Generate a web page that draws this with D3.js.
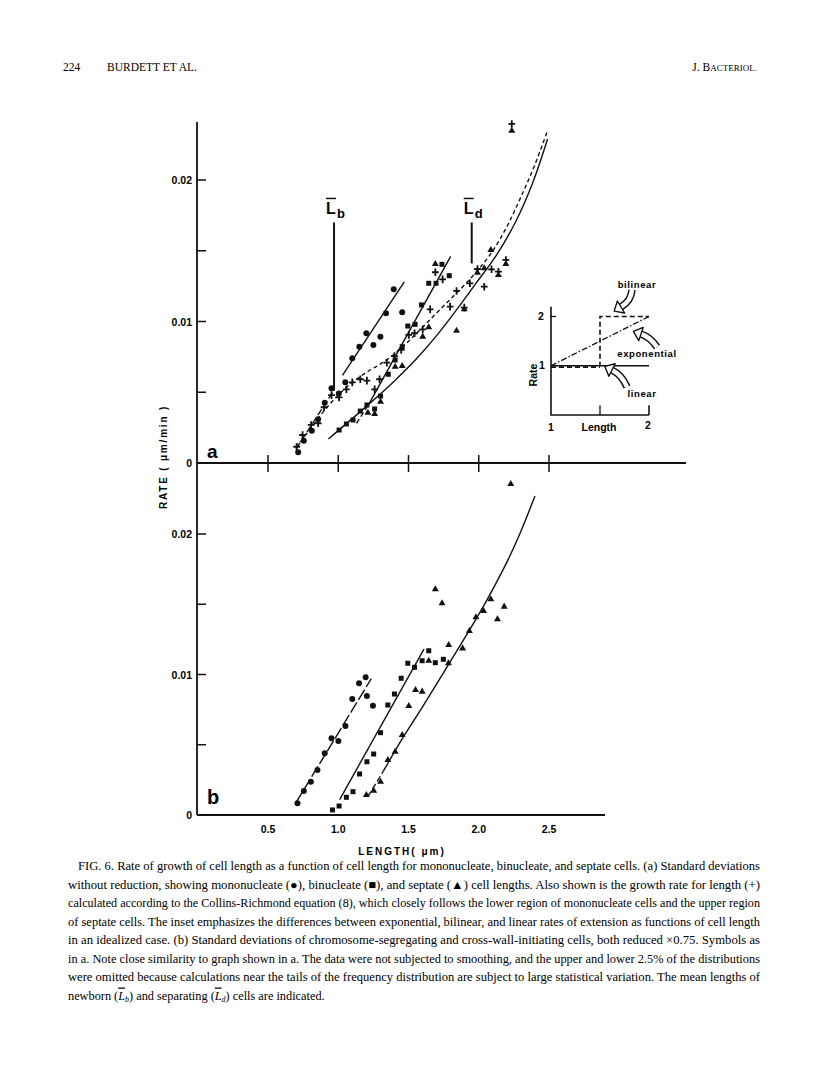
<!DOCTYPE html>
<html>
<head>
<meta charset="utf-8">
<script src="https://cdn.jsdelivr.net/npm/d3@7"></script>
<style>
  body { margin: 0; background: #fff; }
  svg { display: block; }
  .sans { font-family: "Liberation Sans", Arial, sans-serif; font-weight: bold; }
  .serif { font-family: "Liberation Serif", "Times New Roman", serif; }
</style>
</head>
<body>
<svg id="page" width="816" height="1079"></svg>
<script>
// ---- data (length in um, rate in um/min) ----
const xTicks = [0.5, 1.0, 1.5, 2.0, 2.5];
const xTickLabels = ["0.5", "1.0", "1.5", "2.0", "2.5"];
const yTicks = [0.005, 0.01, 0.015, 0.02];
const yTickLabels = [0, 0.01, 0.02];

// panel a - mononucleate (circles)
const aMonoL = [0.715, 0.755, 0.812, 0.857, 0.904, 0.952, 1.004, 1.050, 1.100, 1.150, 1.200, 1.250, 1.300, 1.340, 1.395, 1.455];
const aMonoR = [0.00076, 0.00157, 0.00228, 0.00309, 0.00426, 0.00528, 0.00492, 0.0057, 0.0074, 0.00822, 0.00917, 0.00834, 0.00893, 0.01058, 0.01228, 0.01065];
// binucleate (squares)
const aBinL = [1.006, 1.058, 1.105, 1.157, 1.204, 1.259, 1.301, 1.356, 1.405, 1.455, 1.495, 1.547, 1.592, 1.644, 1.696, 1.738, 1.790];
const aBinR = [0.00233, 0.00276, 0.00304, 0.00367, 0.0041, 0.00382, 0.00473, 0.00627, 0.00728, 0.00822, 0.00968, 0.0098, 0.01117, 0.0127, 0.0127, 0.01404, 0.01324];
// septate (triangles)
const aSepL = [1.211, 1.259, 1.301, 1.405, 1.455, 1.601, 1.644, 1.691, 1.842, 1.897, 1.991, 2.039, 2.086, 2.140, 2.193, 2.235];
const aSepR = [0.00355, 0.00346, 0.00433, 0.0068, 0.00686, 0.00893, 0.00959, 0.01406, 0.00935, 0.01086, 0.01345, 0.01376, 0.01505, 0.01329, 0.01406, 0.02348];
// Collins-Richmond rate (+)
const aCrL = [0.704, 0.746, 0.807, 0.857, 0.899, 0.952, 1.006, 1.058, 1.100, 1.157, 1.204, 1.259, 1.294, 1.346, 1.400, 1.448, 1.502, 1.543, 1.601, 1.654, 1.691, 1.743, 1.796, 1.842, 1.897, 1.937, 1.991, 2.039, 2.091, 2.140, 2.193, 2.235];
const aCrR = [0.00115, 0.00198, 0.00269, 0.00281, 0.00394, 0.0048, 0.00464, 0.00521, 0.0057, 0.00592, 0.00582, 0.00521, 0.00592, 0.00709, 0.00756, 0.00799, 0.00905, 0.00917, 0.00945, 0.01086, 0.01348, 0.01298, 0.01105, 0.01216, 0.01098, 0.0127, 0.01371, 0.01246, 0.01369, 0.01352, 0.01435, 0.02396];

// fitted lines, panel a
const aMonoFitLo = [[0.70, 0.0010], [0.96, 0.0050]];
const aMonoFitHi = [[1.03, 0.0062], [1.47, 0.0128]];
const aBinFitLo = [[1.13, 0.0028], [1.22, 0.0042]];
const aBinFitHi = [[1.22, 0.0042], [1.80, 0.0146]];
const aCrCurve = [[0.70, 0.0011], [0.80, 0.0024], [0.90, 0.0037], [1.0, 0.0048], [1.10, 0.0057], [1.20, 0.0064], [1.30, 0.0070], [1.40, 0.0077], [1.50, 0.0086], [1.60, 0.0096], [1.70, 0.0106], [1.80, 0.0116], [1.90, 0.0126], [2.00, 0.0137], [2.10, 0.0150], [2.20, 0.0167], [2.30, 0.0188], [2.40, 0.0211], [2.49, 0.0235]];
const aSepCurve = [[0.93, 0.0017], [1.20, 0.0040], [1.40, 0.0058], [1.56, 0.0074], [1.70, 0.0090], [1.84, 0.0108], [1.98, 0.0127], [2.12, 0.0146], [2.26, 0.0170], [2.38, 0.0197], [2.49, 0.0229]];

// mean lengths of newborn and separating cells
const lbMean = 0.97, ldMean = 1.95;

// panel b
const bMonoL = [0.71, 0.755, 0.805, 0.852, 0.904, 0.952, 1.001, 1.051, 1.100, 1.148, 1.195, 1.204, 1.247];
const bMonoR = [0.00083, 0.00171, 0.00237, 0.0032, 0.00439, 0.00546, 0.00527, 0.00633, 0.00826, 0.00937, 0.0098, 0.00847, 0.00778];
const bBinL = [0.959, 1.006, 1.058, 1.105, 1.152, 1.204, 1.252, 1.301, 1.353, 1.400, 1.448, 1.495, 1.543, 1.597, 1.644, 1.691, 1.748];
const bBinR = [0.00036, 0.00064, 0.00126, 0.00166, 0.00292, 0.00379, 0.00434, 0.00586, 0.00783, 0.00861, 0.00973, 0.0108, 0.01051, 0.01098, 0.01169, 0.01084, 0.01108];
const bSepL = [1.200, 1.252, 1.301, 1.353, 1.405, 1.455, 1.502, 1.550, 1.597, 1.644, 1.691, 1.739, 1.786, 1.784, 1.885, 1.933, 1.980, 2.034, 2.086, 2.133, 2.181, 2.228];
const bSepR = [0.00142, 0.00173, 0.00237, 0.00391, 0.0045, 0.00569, 0.00776, 0.0089, 0.00878, 0.01098, 0.01606, 0.01507, 0.0121, 0.0108, 0.01186, 0.0131, 0.01407, 0.01452, 0.01535, 0.01393, 0.01483, 0.02356];
const bMonoFit = [[0.70, 0.0009], [1.235, 0.0097]];
const bBinFit = [[1.01, 0.0011], [1.61, 0.0118]];
const bSepFitLo = [[1.21, 0.0013], [1.32, 0.0031]];
const bSepFit = [[1.32, 0.0031], [1.46, 0.0055], [1.60, 0.0077], [1.79, 0.0108], [2.03, 0.0148], [2.20, 0.0180], [2.30, 0.0202], [2.40, 0.0227]];

// inset: idealized rate vs length
const insetLinear = [[1, 1], [2, 1]];
const insetBilinear = [[1, 1], [1.5, 1], [1.5, 2], [2, 2]];
const insetExp = [[1, 1], [2, 2]];

const captionLines = [
  "FIG. 6. Rate of growth of cell length as a function of cell length for mononucleate, binucleate, and septate cells. (a) Standard deviations",
  "without reduction, showing mononucleate (\u25CF), binucleate (\u25A0), and septate (\u25B2) cell lengths. Also shown is the growth rate for length (+)",
  "calculated according to the Collins-Richmond equation (8), which closely follows the lower region of mononucleate cells and the upper region",
  "of septate cells. The inset emphasizes the differences between exponential, bilinear, and linear rates of extension as functions of cell length",
  "in an idealized case. (b) Standard deviations of chromosome-segregating and cross-wall-initiating cells, both reduced \u00D70.75. Symbols as",
  "in a. Note close similarity to graph shown in a. The data were not subjected to smoothing, and the upper and lower 2.5% of the distributions",
  "were omitted because calculations near the tails of the frequency distribution are subject to large statistical variation. The mean lengths of"
];

// ---- drawing ----
const svg = d3.select("#page");
const x = d3.scaleLinear().domain([0.5, 2.5]).range([268, 549]);
const ya = d3.scaleLinear().domain([0, 0.02]).range([463, 180]);
const yb = d3.scaleLinear().domain([0, 0.02]).range([815, 534]);
const axisX = 197;

// page header
svg.append("text").attr("class", "serif").attr("x", 63).attr("y", 71).attr("font-size", 11.5).text("224");
svg.append("text").attr("class", "serif").attr("x", 107).attr("y", 71).attr("font-size", 11.5).text("BURDETT ET AL.");
const jb = svg.append("text").attr("class", "serif").attr("x", 757).attr("y", 71).attr("text-anchor", "end").attr("font-size", 11.5);
jb.append("tspan").text("J. B");
jb.append("tspan").attr("font-size", 9).text("ACTERIOL.");

// main y axis (shared by both panels)
svg.append("line").attr("x1", axisX).attr("x2", axisX).attr("y1", 122).attr("y2", 815)
  .attr("stroke", "#111").attr("stroke-width", 1.8);

function yAxisTicks(y) {
  svg.selectAll(null).data(yTicks).enter().append("line")
    .attr("x1", axisX).attr("x2", axisX + 9)
    .attr("y1", d => y(d)).attr("y2", d => y(d))
    .attr("stroke", "#111").attr("stroke-width", 1.5);
  svg.selectAll(null).data(yTickLabels).enter().append("text")
    .attr("class", "sans").attr("font-size", 10.5)
    .attr("x", axisX - 5).attr("y", d => y(d) + 4)
    .attr("text-anchor", "end")
    .text(d => d === 0 ? "0" : d3.format(".2f")(d));
}
yAxisTicks(ya);
yAxisTicks(yb);

// panel a x axis: long line with crossing ticks
svg.append("line").attr("x1", axisX).attr("x2", 686).attr("y1", ya(0)).attr("y2", ya(0))
  .attr("stroke", "#111").attr("stroke-width", 1.8);
svg.selectAll(null).data(xTicks).enter().append("line")
  .attr("x1", d => x(d)).attr("x2", d => x(d))
  .attr("y1", ya(0) - 8).attr("y2", ya(0) + 9)
  .attr("stroke", "#111").attr("stroke-width", 1.5);

// panel b x axis: no ticks, only labels
svg.append("line").attr("x1", axisX).attr("x2", 605).attr("y1", yb(0)).attr("y2", yb(0))
  .attr("stroke", "#111").attr("stroke-width", 1.8);
svg.selectAll(null).data(xTicks).enter().append("text")
  .attr("class", "sans").attr("font-size", 10.5)
  .attr("x", d => x(d)).attr("y", yb(0) + 18)
  .attr("text-anchor", "middle")
  .text((d, i) => xTickLabels[i]);

svg.append("text").attr("class", "sans").attr("font-size", 10).attr("letter-spacing", 2)
  .attr("x", 402).attr("y", 855).attr("text-anchor", "middle")
  .text("LENGTH( \u03BCm)");

// y label, rotated
svg.append("text").attr("class", "sans").attr("font-size", 10).attr("letter-spacing", 1.8)
  .attr("transform", "translate(167,457) rotate(-90)")
  .attr("text-anchor", "middle")
  .text("RATE ( \u03BCm/min )");

// panel letters
svg.append("text").attr("class", "sans").attr("font-weight", "normal").attr("font-size", 19)
  .attr("x", 207).attr("y", 458).text("a");
svg.append("text").attr("class", "sans").attr("font-weight", "normal").attr("font-size", 20)
  .attr("x", 207).attr("y", 804).text("b");

// helpers
function zip(L, R) { return L.map((l, i) => [l, R[i]]); }

function drawLine(pts, y, dash, curved) {
  const gen = d3.line().x(d => x(d[0])).y(d => y(d[1]));
  if (curved) gen.curve(d3.curveCatmullRom.alpha(0.5));
  svg.append("path").attr("d", gen(pts))
    .attr("fill", "none").attr("stroke", "#111").attr("stroke-width", 1.4)
    .attr("stroke-dasharray", dash || null);
}

function drawPoints(L, R, y, shape) {
  const pts = zip(L, R);
  if (shape === "plus") {
    svg.selectAll(null).data(pts).enter().append("path")
      .attr("d", d => {
        const cx = x(d[0]), cy = y(d[1]);
        return `M${cx - 3.4},${cy}H${cx + 3.4}M${cx},${cy - 3.8}V${cy + 3.8}`;
      })
      .attr("stroke", "#111").attr("stroke-width", 1.8);
    return;
  }
  const sym = shape === "circle" ? d3.symbolCircle : shape === "square" ? d3.symbolSquare : d3.symbolTriangle;
  const size = shape === "circle" ? 28 : shape === "square" ? 25 : 21;
  svg.selectAll(null).data(pts).enter().append("path")
    .attr("d", d3.symbol().type(sym).size(size))
    .attr("transform", d => `translate(${x(d[0])},${y(d[1])})`)
    .attr("fill", "#111");
}

// panel a lines
drawLine(aMonoFitLo, ya, "7,3");
drawLine(aMonoFitHi, ya);
drawLine(aBinFitLo, ya, "5,3");
drawLine(aBinFitHi, ya);
drawLine(aCrCurve, ya, "4,3", true);
drawLine(aSepCurve, ya, null, true);

// panel a points
drawPoints(aMonoL, aMonoR, ya, "circle");
drawPoints(aBinL, aBinR, ya, "square");
drawPoints(aSepL, aSepR, ya, "triangle");
drawPoints(aCrL, aCrR, ya, "plus");

// mean length markers
function meanMark(L, rTop, rBot, sub) {
  const mx = x(L);
  svg.append("line").attr("x1", mx).attr("x2", mx).attr("y1", ya(rTop)).attr("y2", ya(rBot))
    .attr("stroke", "#111").attr("stroke-width", 2);
  svg.append("text").attr("class", "sans").attr("font-weight", "normal").attr("font-size", 16)
    .attr("x", mx - 8).attr("y", ya(rTop) - 8).text("L");
  svg.append("line").attr("x1", mx - 8).attr("x2", mx + 2).attr("y1", ya(rTop) - 24).attr("y2", ya(rTop) - 24)
    .attr("stroke", "#111").attr("stroke-width", 1.5);
  svg.append("text").attr("class", "sans").attr("font-weight", "normal").attr("font-size", 13)
    .attr("x", mx + 3).attr("y", ya(rTop) - 4).text(sub);
}
meanMark(lbMean, 0.017, 0.0051, "b");
meanMark(ldMean, 0.017, 0.0141, "d");

// panel b
drawLine(bMonoFit, yb, "12,3");
drawLine(bBinFit, yb);
drawLine(bSepFitLo, yb, "6,3");
drawLine(bSepFit, yb, null, true);
drawPoints(bMonoL, bMonoR, yb, "circle");
drawPoints(bBinL, bBinR, yb, "square");
drawPoints(bSepL, bSepR, yb, "triangle");

// ---- inset ----
const ix = d3.scaleLinear().domain([1, 2]).range([551, 649]);
const iy = d3.scaleLinear().domain([0, 2]).range([415, 316.5]);
const inset = svg.append("g");
inset.append("path").attr("d", `M${ix(1)},${iy(2.2)}V${iy(0)}H${ix(2)}`)
  .attr("fill", "none").attr("stroke", "#111").attr("stroke-width", 1.6);
inset.append("line").attr("x1", ix(2)).attr("x2", ix(2)).attr("y1", iy(0)).attr("y2", iy(0.2))
  .attr("stroke", "#111").attr("stroke-width", 1.6);
inset.append("line").attr("x1", ix(1.5)).attr("x2", ix(1.5)).attr("y1", iy(0)).attr("y2", iy(0.2))
  .attr("stroke", "#111").attr("stroke-width", 1.3);
inset.append("line").attr("x1", ix(1) - 1).attr("x2", ix(1) + 5).attr("y1", iy(2)).attr("y2", iy(2))
  .attr("stroke", "#111").attr("stroke-width", 1.3);
const iline = d3.line().x(d => ix(d[0])).y(d => iy(d[1]));
inset.append("path").attr("d", iline(insetLinear)).attr("fill", "none").attr("stroke", "#111").attr("stroke-width", 1.5);
inset.append("path").attr("d", iline(insetBilinear)).attr("fill", "none").attr("stroke", "#111")
  .attr("stroke-width", 1.6).attr("stroke-dasharray", "5,3");
inset.append("path").attr("d", iline(insetExp)).attr("fill", "none").attr("stroke", "#111")
  .attr("stroke-width", 1.3).attr("stroke-dasharray", "6,2,1.5,2");
// heavier dash just under the shared rate-1 stretch
inset.append("line").attr("x1", ix(1)).attr("x2", ix(1.5)).attr("y1", iy(1) + 1.5).attr("y2", iy(1) + 1.5)
  .attr("stroke", "#111").attr("stroke-width", 1.6).attr("stroke-dasharray", "5,3");

function tlabel(t, tx, ty, size, anchor) {
  return inset.append("text").attr("class", "sans").attr("font-size", size)
    .attr("x", tx).attr("y", ty).attr("text-anchor", anchor || "middle").text(t);
}
tlabel("2", 541, 320, 10.5);
tlabel("1", 542, 369, 10.5);
tlabel("1", 551, 431, 10.5);
tlabel("2", 648, 429, 10.5);
tlabel("Length", 599, 431, 10.5);
inset.append("text").attr("class", "sans").attr("font-size", 10.5)
  .attr("transform", "translate(537,375) rotate(-90)").attr("text-anchor", "middle").text("Rate");
tlabel("bilinear", 637, 288, 9.5).attr("letter-spacing", 0.6);
tlabel("exponential", 647, 357, 9.5).attr("letter-spacing", 0.6);
tlabel("linear", 642, 397, 9.5).attr("letter-spacing", 0.6);

// hollow curved arrows pointing at each line
function hollowArrow(p0, c, p1) {
  const d = `M${p0[0]},${p0[1]}Q${c[0]},${c[1]} ${p1[0]},${p1[1]}`;
  inset.append("path").attr("d", d).attr("fill", "none").attr("stroke", "#111").attr("stroke-width", 7.5);
  inset.append("path").attr("d", d).attr("fill", "none").attr("stroke", "#fff").attr("stroke-width", 4.5);
  const ang = Math.atan2(p1[1] - c[1], p1[0] - c[0]);
  const tip = [p1[0] + 8 * Math.cos(ang), p1[1] + 8 * Math.sin(ang)];
  const w = 7;
  const bx = p1[0] - Math.sin(ang) * w, by = p1[1] + Math.cos(ang) * w;
  const cx2 = p1[0] + Math.sin(ang) * w, cy2 = p1[1] - Math.cos(ang) * w;
  inset.append("path").attr("d", `M${bx},${by}L${tip[0]},${tip[1]}L${cx2},${cy2}Z`)
    .attr("fill", "#fff").attr("stroke", "#111").attr("stroke-width", 1.4).attr("stroke-linejoin", "round");
}
hollowArrow([632, 290], [631, 301], [621, 307]);
hollowArrow([657, 347], [650, 337], [641, 334]);
hollowArrow([627, 387], [622, 375], [612, 370]);

// ---- caption ----
const capTop = 870, capStep = 18.5;
captionLines.forEach((line, i) => {
  const x0 = i === 0 ? 78 : 68;
  svg.append("text").attr("class", "serif").attr("font-size", 12.3)
    .attr("x", x0).attr("y", capTop + i * capStep)
    .attr("textLength", 760 - x0).attr("lengthAdjust", "spacingAndGlyphs")
    .text(line);
});
const last = svg.append("text").attr("class", "serif").attr("font-size", 12.3)
  .attr("x", 68).attr("y", capTop + 7 * capStep);
last.append("tspan").text("newborn (");
last.append("tspan").attr("font-style", "italic").attr("text-decoration", "overline").text("L");
last.append("tspan").attr("font-style", "italic").attr("font-size", 8).attr("dy", 2).text("b");
last.append("tspan").attr("dy", -2).text(") and separating (");
last.append("tspan").attr("font-style", "italic").attr("text-decoration", "overline").text("L");
last.append("tspan").attr("font-style", "italic").attr("font-size", 8).attr("dy", 2).text("d");
last.append("tspan").attr("dy", -2).text(") cells are indicated.");
</script>
</body>
</html>
